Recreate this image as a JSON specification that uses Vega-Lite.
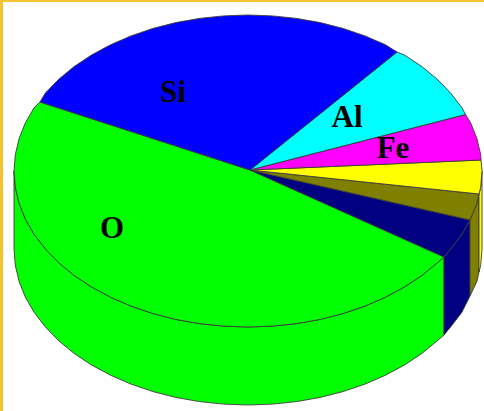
{
"$schema":"https://vega.github.io/schema/vega-lite/v6.json",
"width":484,"height":411,"padding":0,"autosize":"none",
"background":"#ffffff",
"view":{"stroke":null},
"datasets":{
"frame":[{"x":0,"x2":3,"y":0,"y2":411},{"x":0,"x2":484,"y":0,"y2":2}],
"labels":[{"t":"Si","x":173,"y":102},{"t":"Al","x":347,"y":127},{"t":"Fe","x":393,"y":158},{"t":"O","x":112,"y":238}],
"sides":[
{"e":"O","i":0,"x":444,"y":257},{"e":"O","i":1,"x":437.3,"y":262.7},{"e":"O","i":2,"x":421.9,"y":275.4},{"e":"O","i":3,"x":404.6,"y":286.9},{"e":"O","i":4,"x":385.5,"y":297.2},{"e":"O","i":5,"x":365,"y":306.1},{"e":"O","i":6,"x":343.2,"y":313.5},{"e":"O","i":7,"x":320.3,"y":319.4},{"e":"O","i":8,"x":296.6,"y":323.6},{"e":"O","i":9,"x":272.5,"y":326.1},{"e":"O","i":10,"x":248,"y":327},{"e":"O","i":11,"x":223.5,"y":326.1},{"e":"O","i":12,"x":199.4,"y":323.6},{"e":"O","i":13,"x":175.7,"y":319.4},{"e":"O","i":14,"x":152.8,"y":313.5},{"e":"O","i":15,"x":131,"y":306.1},{"e":"O","i":16,"x":110.5,"y":297.2},{"e":"O","i":17,"x":91.4,"y":286.9},{"e":"O","i":18,"x":74.1,"y":275.4},{"e":"O","i":19,"x":58.7,"y":262.7},{"e":"O","i":20,"x":45.4,"y":249},{"e":"O","i":21,"x":34.2,"y":234.4},{"e":"O","i":22,"x":25.4,"y":219.2},{"e":"O","i":23,"x":19.1,"y":203.4},{"e":"O","i":24,"x":15.3,"y":187.3},{"e":"O","i":25,"x":14,"y":171},
{"e":"O","i":26,"x":14,"y":249},{"e":"O","i":27,"x":15.3,"y":265.3},{"e":"O","i":28,"x":19.1,"y":281.4},{"e":"O","i":29,"x":25.4,"y":297.2},{"e":"O","i":30,"x":34.2,"y":312.4},{"e":"O","i":31,"x":45.4,"y":327},{"e":"O","i":32,"x":58.7,"y":340.7},{"e":"O","i":33,"x":74.1,"y":353.4},{"e":"O","i":34,"x":91.4,"y":364.9},{"e":"O","i":35,"x":110.5,"y":375.2},{"e":"O","i":36,"x":131,"y":384.1},{"e":"O","i":37,"x":152.8,"y":391.5},{"e":"O","i":38,"x":175.7,"y":397.4},{"e":"O","i":39,"x":199.4,"y":401.6},{"e":"O","i":40,"x":223.5,"y":404.1},{"e":"O","i":41,"x":248,"y":405},{"e":"O","i":42,"x":272.5,"y":404.1},{"e":"O","i":43,"x":296.6,"y":401.6},{"e":"O","i":44,"x":320.3,"y":397.4},{"e":"O","i":45,"x":343.2,"y":391.5},{"e":"O","i":46,"x":365,"y":384.1},{"e":"O","i":47,"x":385.5,"y":375.2},{"e":"O","i":48,"x":404.6,"y":364.9},{"e":"O","i":49,"x":421.9,"y":353.4},{"e":"O","i":50,"x":437.3,"y":340.7},{"e":"O","i":51,"x":444,"y":335},
{"e":"Ca","i":0,"x":470,"y":220},{"e":"Ca","i":1,"x":461.8,"y":234.4},{"e":"Ca","i":2,"x":450.6,"y":249},{"e":"Ca","i":3,"x":444,"y":257},{"e":"Ca","i":4,"x":444,"y":335},{"e":"Ca","i":5,"x":450.6,"y":327},{"e":"Ca","i":6,"x":461.8,"y":312.4},{"e":"Ca","i":7,"x":470,"y":296},
{"e":"Na","i":0,"x":479,"y":194},{"e":"Na","i":1,"x":476.9,"y":203.4},{"e":"Na","i":2,"x":470,"y":220},{"e":"Na","i":3,"x":470,"y":296},{"e":"Na","i":4,"x":476.9,"y":281.4},{"e":"Na","i":5,"x":479,"y":272},
{"e":"Mg","i":0,"x":482,"y":171},{"e":"Mg","i":1,"x":480.7,"y":187.3},{"e":"Mg","i":2,"x":479,"y":194},{"e":"Mg","i":3,"x":479,"y":272},{"e":"Mg","i":4,"x":480.7,"y":265.3},{"e":"Mg","i":5,"x":482,"y":249}
],
"tops":[
{"e":"O","i":0,"x":250,"y":170},{"e":"O","i":1,"x":40,"y":102},{"e":"O","i":2,"x":34.2,"y":107.6},{"e":"O","i":3,"x":25.4,"y":122.8},{"e":"O","i":4,"x":19.1,"y":138.6},{"e":"O","i":5,"x":15.3,"y":154.7},{"e":"O","i":6,"x":14,"y":171},{"e":"O","i":7,"x":15.3,"y":187.3},{"e":"O","i":8,"x":19.1,"y":203.4},{"e":"O","i":9,"x":25.4,"y":219.2},{"e":"O","i":10,"x":34.2,"y":234.4},{"e":"O","i":11,"x":45.4,"y":249},{"e":"O","i":12,"x":58.7,"y":262.7},{"e":"O","i":13,"x":74.1,"y":275.4},{"e":"O","i":14,"x":91.4,"y":286.9},{"e":"O","i":15,"x":110.5,"y":297.2},{"e":"O","i":16,"x":131,"y":306.1},{"e":"O","i":17,"x":152.8,"y":313.5},{"e":"O","i":18,"x":175.7,"y":319.4},{"e":"O","i":19,"x":199.4,"y":323.6},{"e":"O","i":20,"x":223.5,"y":326.1},{"e":"O","i":21,"x":248,"y":327},{"e":"O","i":22,"x":272.5,"y":326.1},{"e":"O","i":23,"x":296.6,"y":323.6},{"e":"O","i":24,"x":320.3,"y":319.4},{"e":"O","i":25,"x":343.2,"y":313.5},{"e":"O","i":26,"x":365,"y":306.1},{"e":"O","i":27,"x":385.5,"y":297.2},{"e":"O","i":28,"x":404.6,"y":286.9},{"e":"O","i":29,"x":421.9,"y":275.4},{"e":"O","i":30,"x":437.3,"y":262.7},{"e":"O","i":31,"x":444,"y":257},
{"e":"Ca","i":0,"x":250,"y":170},{"e":"Ca","i":1,"x":444,"y":257},{"e":"Ca","i":2,"x":450.6,"y":249},{"e":"Ca","i":3,"x":461.8,"y":234.4},{"e":"Ca","i":4,"x":470,"y":220},
{"e":"Na","i":0,"x":250,"y":170},{"e":"Na","i":1,"x":470,"y":220},{"e":"Na","i":2,"x":476.9,"y":203.4},{"e":"Na","i":3,"x":479,"y":194},
{"e":"Mg","i":0,"x":250,"y":170},{"e":"Mg","i":1,"x":479,"y":194},{"e":"Mg","i":2,"x":480.7,"y":187.3},{"e":"Mg","i":3,"x":482,"y":171},{"e":"Mg","i":4,"x":481,"y":160},
{"e":"Fe","i":0,"x":250,"y":170},{"e":"Fe","i":1,"x":481,"y":160},{"e":"Fe","i":2,"x":480.7,"y":154.7},{"e":"Fe","i":3,"x":476.9,"y":138.6},{"e":"Fe","i":4,"x":470.6,"y":122.8},{"e":"Fe","i":5,"x":465.5,"y":114.5},
{"e":"Al","i":0,"x":250,"y":170},{"e":"Al","i":1,"x":465.5,"y":114.5},{"e":"Al","i":2,"x":461.8,"y":107.6},{"e":"Al","i":3,"x":450.6,"y":93},{"e":"Al","i":4,"x":437.3,"y":79.3},{"e":"Al","i":5,"x":421.9,"y":66.6},{"e":"Al","i":6,"x":404.6,"y":55.1},{"e":"Al","i":7,"x":397,"y":52},
{"e":"Si","i":0,"x":250,"y":170},{"e":"Si","i":1,"x":397,"y":52},{"e":"Si","i":2,"x":385.5,"y":44.8},{"e":"Si","i":3,"x":365,"y":35.9},{"e":"Si","i":4,"x":343.2,"y":28.5},{"e":"Si","i":5,"x":320.3,"y":22.6},{"e":"Si","i":6,"x":296.6,"y":18.4},{"e":"Si","i":7,"x":272.5,"y":15.9},{"e":"Si","i":8,"x":248,"y":15},{"e":"Si","i":9,"x":223.5,"y":15.9},{"e":"Si","i":10,"x":199.4,"y":18.4},{"e":"Si","i":11,"x":175.7,"y":22.6},{"e":"Si","i":12,"x":152.8,"y":28.5},{"e":"Si","i":13,"x":131,"y":35.9},{"e":"Si","i":14,"x":110.5,"y":44.8},{"e":"Si","i":15,"x":91.4,"y":55.1},{"e":"Si","i":16,"x":74.1,"y":66.6},{"e":"Si","i":17,"x":58.7,"y":79.3},{"e":"Si","i":18,"x":45.4,"y":93},{"e":"Si","i":19,"x":40,"y":102}
]
},
"layer":[
{"data":{"name":"sides"},
 "mark":{"type":"line","interpolate":"linear-closed","stroke":"#3a3a3a","strokeWidth":0.9},
 "encoding":{
  "x":{"field":"x","type":"quantitative","scale":{"domain":[0,484],"nice":false,"zero":false},"axis":null},
  "y":{"field":"y","type":"quantitative","scale":{"domain":[411,0],"nice":false,"zero":false},"axis":null},
  "order":{"field":"i","type":"quantitative"},
  "fill":{"field":"e","type":"nominal","legend":null,"scale":{"domain":["O","Si","Al","Fe","Mg","Na","Ca"],"range":["#00ff00","#0000ff","#00ffff","#ff00ff","#ffff00","#808000","#000080"]}}
 }},
{"data":{"name":"tops"},
 "mark":{"type":"line","interpolate":"linear-closed","stroke":"#3a3a3a","strokeWidth":0.9},
 "encoding":{
  "x":{"field":"x","type":"quantitative","scale":{"domain":[0,484],"nice":false,"zero":false},"axis":null},
  "y":{"field":"y","type":"quantitative","scale":{"domain":[411,0],"nice":false,"zero":false},"axis":null},
  "order":{"field":"i","type":"quantitative"},
  "fill":{"field":"e","type":"nominal","legend":null,"scale":{"domain":["O","Si","Al","Fe","Mg","Na","Ca"],"range":["#00ff00","#0000ff","#00ffff","#ff00ff","#ffff00","#808000","#000080"]}}
 }},
{"data":{"name":"labels"},
 "mark":{"type":"text","font":"Liberation Serif","fontWeight":"bold","fontSize":31,"align":"center","baseline":"alphabetic","color":"#000000"},
 "encoding":{
  "x":{"field":"x","type":"quantitative"},
  "y":{"field":"y","type":"quantitative"},
  "text":{"field":"t","type":"nominal"}
 }},
{"data":{"name":"frame"},
 "mark":{"type":"rect","color":"#f4c430"},
 "encoding":{
  "x":{"field":"x","type":"quantitative"},"x2":{"field":"x2"},
  "y":{"field":"y","type":"quantitative"},"y2":{"field":"y2"}
 }}
]
}
